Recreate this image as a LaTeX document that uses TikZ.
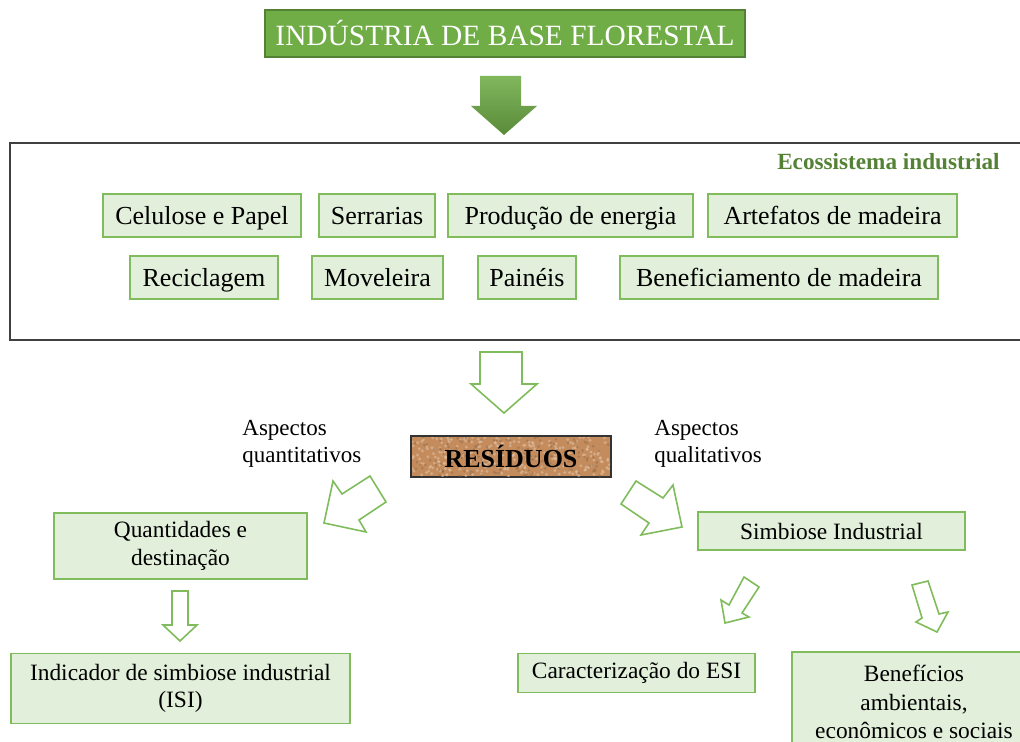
\documentclass[tikz,border=0pt]{standalone}
\usepackage{fontspec}
\setmainfont{Liberation Serif}
\definecolor{titlegreen}{RGB}{112,173,71}
\definecolor{darkgreen}{RGB}{84,130,53}
\definecolor{boxgreen}{RGB}{226,239,218}
\definecolor{edgegreen}{RGB}{128,188,92}
\definecolor{cork}{RGB}{196,140,92}
\tikzset{
    item/.style={draw=edgegreen, line width=0.75pt, fill=boxgreen, inner sep=0pt, text height=10.5pt, text depth=1.5pt,
                 font=\fontsize{13}{15}\selectfont},
    subbox/.style={draw=edgegreen, line width=0.75pt, fill=boxgreen, inner sep=0pt, align=center,
                   font=\fontsize{11.7}{13.8}\selectfont},
    hollow/.style={draw=edgegreen, line width=0.8pt, line join=miter, fill=white},
    aspect/.style={align=left, anchor=west, inner sep=0pt, font=\fontsize{11.5}{13.5}\selectfont}
}
\begin{document}
\begin{tikzpicture}[x=0.5pt, y=-0.5pt]
    \useasboundingbox (0,0) rectangle (1020,742);
    \clip (0,0) rectangle (1020,742);

    % Title and green arrow
    \node[draw=darkgreen, fill=titlegreen, line width=0.75pt, minimum width=240pt, minimum height=23.5pt, inner sep=0pt,
          text=white, font=\fontsize{14.7}{16}\selectfont] (title) at (505,33.5) {INDÚSTRIA DE BASE FLORESTAL};
    \shade[top color=titlegreen!88!white, bottom color=titlegreen!80!black]
        (480,76) -- (521,76) -- (521,106) -- (537,106) -- (504,135) -- (471,106) -- (480,106) -- cycle;

    % Ecosystem frame
    \draw[line width=1pt, color=black!75] (10,143) rectangle (1040,340);
    \node[anchor=east, inner sep=0pt, text=darkgreen, font=\bfseries\fontsize{11.6}{13}\selectfont] (eco) at (1000,162) {Ecossistema industrial};

    % First row of sectors
    \node[item, minimum width=99pt,   minimum height=21.5pt] (celulose)  at (202,215.5)   {Celulose e Papel};
    \node[item, minimum width=58pt,   minimum height=21.5pt] (serrarias) at (377,215.5)   {Serrarias};
    \node[item, minimum width=122.5pt, minimum height=21.5pt] (energia)  at (570.5,215.5) {Produção de energia};
    \node[item, minimum width=124.5pt, minimum height=21.5pt] (artefatos) at (832.5,215.5) {Artefatos de madeira};

    % Second row of sectors
    \node[item, minimum width=74pt,   minimum height=21.5pt] (reciclagem) at (204,277.5)   {Reciclagem};
    \node[item, minimum width=65.5pt, minimum height=21.5pt] (moveleira)  at (377.5,277.5) {Moveleira};
    \node[item, minimum width=49pt,   minimum height=21.5pt] (paineis)    at (527,277.5)   {Painéis};
    \node[item, minimum width=159pt,  minimum height=21.5pt] (beneficiamento) at (779,277.5) {Beneficiamento de madeira};

    % Arrow down to the residues
    \draw[hollow] (480,352) -- (522,352) -- (522,384) -- (537,384) -- (504,413) -- (471,384) -- (480,384) -- cycle;

    % Residues
    \node[draw=black!80, line width=0.75pt, fill=cork, minimum width=100pt, minimum height=20.5pt, inner sep=0pt] (residuos) at (511,456.5) {};
    \begin{scope}
        \clip (412,437) rectangle (610,476);
        \pgfmathsetseed{7}
        \foreach \i in {1,...,260} {
            \fill[cork!55!white, opacity=0.6] ({412+198*rnd},{437+39*rnd}) circle (1.6);
        }
        \foreach \i in {1,...,160} {
            \fill[cork!70!black, opacity=0.45] ({412+198*rnd},{437+39*rnd}) circle (1.4);
        }
    \end{scope}
    \node[font=\bfseries\fontsize{13}{15}\selectfont] (residuostxt) at (residuos) {RESÍDUOS};

    \node[aspect] (quanti) at (242,443.5) {Aspectos\\quantitativos};
    \node[aspect] (quali)  at (654,443.5) {Aspectos\\qualitativos};

    % Diagonal arrows
    \draw[hollow] (324,523) -- (333,481) -- (342,494) -- (370,476) -- (386,502) -- (359,520) -- (366,532) -- cycle;
    \draw[hollow] (682,527) -- (641,535) -- (649,523) -- (621,504) -- (636,481) -- (663,498) -- (673,485) -- cycle;

    % Quantitative branch
    \node[subbox, minimum width=126.5pt, minimum height=33pt] (quantidades) at (180.5,546) {Quantidades e\\destinação};
    \draw[hollow] (172,591) -- (188,591) -- (188,625) -- (197,625) -- (180,641) -- (163,625) -- (172,625) -- cycle;
    \node[subbox, minimum width=169.5pt, minimum height=35pt] (isi) at (180.5,688.5) {Indicador de simbiose industrial\\(ISI)};

    % Qualitative branch
    \node[subbox, minimum width=133.5pt, minimum height=19pt] (simbiose) at (831.5,531) {Simbiose Industrial};
    \draw[hollow] (725,623) -- (721,600) -- (729,605) -- (744,577) -- (759,587) -- (742,613) -- (749,617) -- cycle;
    \draw[hollow] (937,632) -- (916,622) -- (922,618) -- (912,585) -- (928,581) -- (939,614) -- (948,612) -- cycle;
    \node[subbox, minimum width=118.5pt, minimum height=19.5pt] (esi) at (636.5,673) {Caracterização do ESI};
    \node[subbox, minimum width=122pt, minimum height=50pt, font=\fontsize{11.7}{14.3}\selectfont] (beneficios) at (914,702)
        {Benefícios\\ambientais,\\econômicos e sociais};
\end{tikzpicture}
\end{document}
